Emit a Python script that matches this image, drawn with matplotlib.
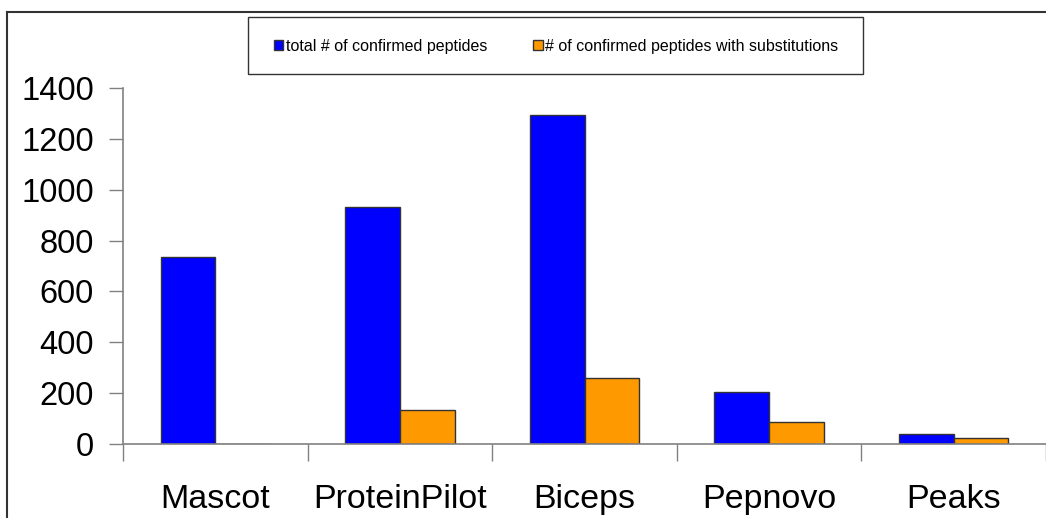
import numpy as np
import matplotlib.pyplot as plt
from matplotlib.patches import Rectangle
from matplotlib.lines import Line2D

plt.rcParams["font.family"] = ["Liberation Sans", "DejaVu Sans"]

programs = ["Mascot", "ProteinPilot", "Biceps", "Pepnovo", "Peaks"]
total_confirmed = [735, 932, 1294, 204, 39]
with_substitutions = [0, 134, 260, 87, 24]
y_ticks = [0, 200, 400, 600, 800, 1000, 1200, 1400]

W, H = 1046, 518
fig = plt.figure(figsize=(W / 100, H / 100), dpi=100)

# axes placed in pixel terms: y axis at x=123, 0 at y=444, 1400 at y=88
ax = fig.add_axes([123 / W, (H - 444) / H, (W - 123) / W, (444 - 88) / H])

x = np.arange(len(programs))
bw = 55 / 185.5
ax.bar(x - bw / 2, total_confirmed, bw, color="#0000FF", edgecolor="#333333", linewidth=1.0,
       label="total # of confirmed peptides")
ax.bar(x + bw / 2, with_substitutions, bw, color="#FF9900", edgecolor="#333333", linewidth=1.0,
       label="# of confirmed peptides with substitutions")

ax.set_ylim(0, 1400)
ax.set_xlim(-0.5, -0.5 + (W - 123) / 185.5)
ax.set_yticks(y_ticks)
ax.tick_params(axis="y", labelsize=23.5, length=10, width=1, color="#808080", pad=11)

# category boundaries as major ticks, labels at centers as minor ticks
ax.set_xticks(np.arange(-0.5, len(programs) + 0.5, 1.0))
ax.set_xticklabels([])
ax.set_xticks(x, minor=True)
ax.set_xticklabels(programs, minor=True)
ax.tick_params(axis="x", which="major", length=12, width=1, color="#808080")
ax.tick_params(axis="x", which="minor", length=0, labelsize=24.5, pad=29)

for side in ("top", "right"):
    ax.spines[side].set_visible(False)
for side in ("left", "bottom"):
    ax.spines[side].set_color("#808080")
    ax.spines[side].set_linewidth(1.2)

# legend with separate frame box
fig.patches.append(Rectangle((248 / W, (H - 74) / H), (863 - 248) / W, (74 - 17) / H,
                             transform=fig.transFigure, fill=False, edgecolor="#333333",
                             linewidth=1.0))
fig.legend(loc="center", bbox_to_anchor=(556 / W, (H - 46) / H), ncol=2, frameon=False,
           fontsize=11.5, handlelength=0.6, handleheight=0.6, handletextpad=0.15,
           columnspacing=2.9)

# outer border (left and top edges)
fig.add_artist(Line2D([7 / W, 7 / W], [0, (H - 12) / H], transform=fig.transFigure,
                      color="#333333", linewidth=1.5))
fig.add_artist(Line2D([7 / W, 1], [(H - 12) / H, (H - 12) / H], transform=fig.transFigure,
                      color="#333333", linewidth=1.5))

fig.savefig("out.png", dpi=100)
